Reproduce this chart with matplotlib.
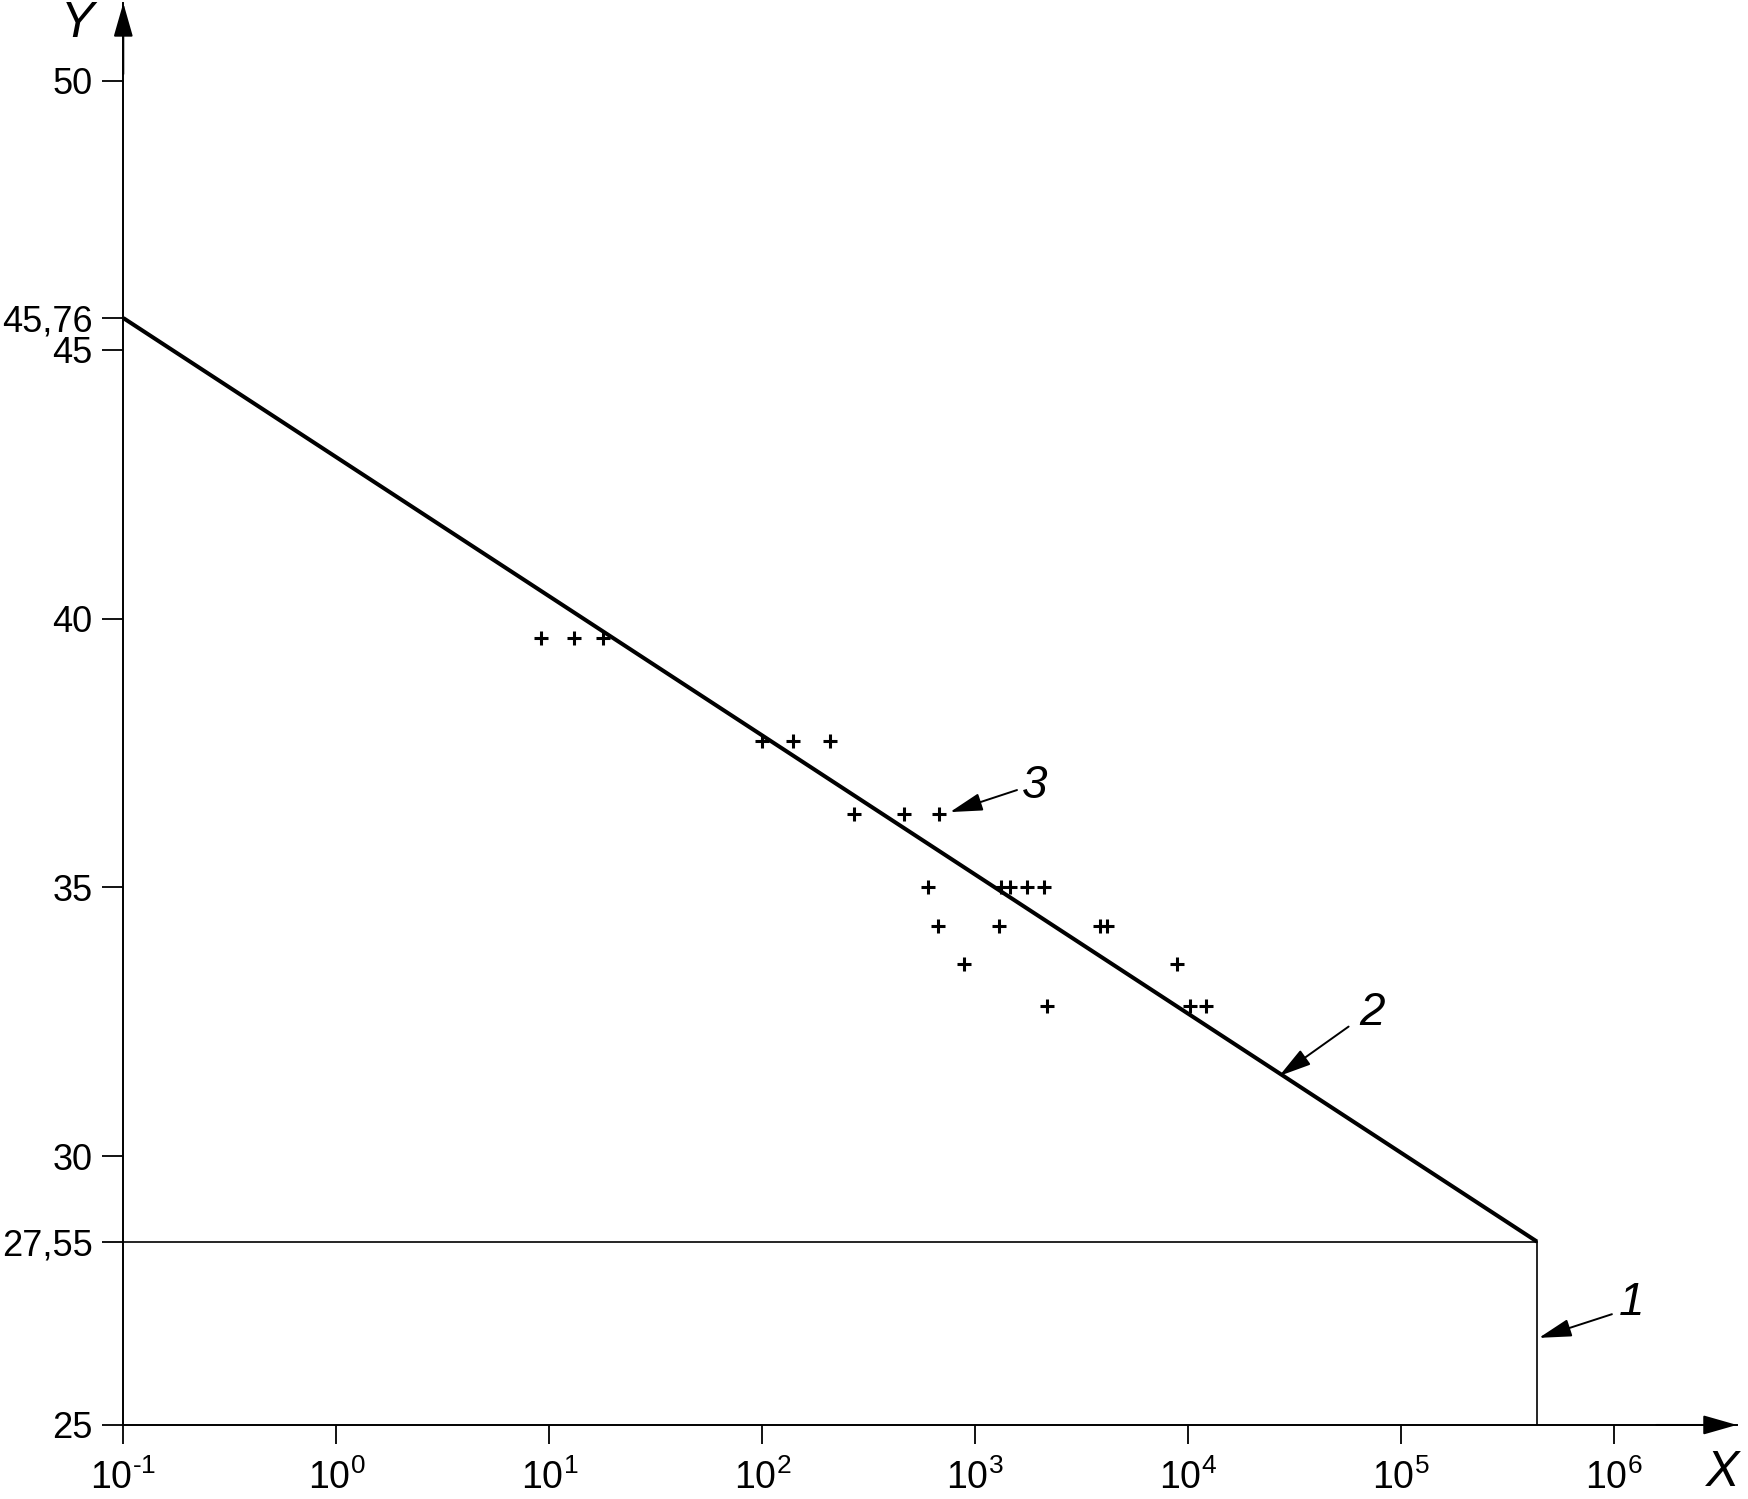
import matplotlib
matplotlib.use("Agg")
import numpy as np
import matplotlib.pyplot as plt

plt.rcParams['font.family'] = ['Liberation Sans', 'DejaVu Sans']
plt.rcParams['mathtext.fontset'] = 'custom'
plt.rcParams['mathtext.rm'] = 'Liberation Sans'
plt.rcParams['mathtext.it'] = 'Liberation Sans:italic'

# measured points (x on log scale)
pts_x = [9.1, 13.1, 17.8,
         100, 140, 208,
         270, 464, 678,
         597, 1316, 1455, 1743, 2109,
         670, 1288, 3850, 4140,
         888, 8830,
         2163, 10190, 12110]
pts_y = [39.64, 39.64, 39.64,
         37.72, 37.72, 37.72,
         36.37, 36.37, 36.37,
         35.0, 35.0, 35.0, 35.0, 35.0,
         34.28, 34.28, 34.28, 34.28,
         33.58, 33.58,
         32.79, 32.79, 32.79]

# fitted line (2) and boundary (1)
line_x = [0.1, 4.34e5]
line_y = [45.59, 28.41]
x_limit = 4.34e5
y_floor = 28.41

y_ticks = [25, 30, 35, 40, 45, 50, 45.59, 28.41]
y_tick_labels = ['25', '30', '35', '40', '45', '50', '45,76', '27,55']
x_ticks = [1e-1, 1e0, 1e1, 1e2, 1e3, 1e4, 1e5, 1e6]
x_tick_labels = ['$10^{\u2010 1}$', '$10^{0}$', '$10^{1}$', '$10^{2}$',
                 '$10^{3}$', '$10^{4}$', '$10^{5}$', '$10^{6}$']

fig = plt.figure(figsize=(17.49, 14.99), dpi=100)
ax = fig.add_axes([0.0705, 0.0494, 0.9226, 0.9486])
ax.set_xscale('log')
ax.set_xlim(0.1, 10 ** 6.576)
ax.set_ylim(25, 51.45)

for s in ['top', 'right']:
    ax.spines[s].set_visible(False)
for s in ['left', 'bottom']:
    ax.spines[s].set_linewidth(1.4)

ax.set_xticks(x_ticks)
ax.set_xticklabels(x_tick_labels)
ax.xaxis.set_minor_locator(matplotlib.ticker.NullLocator())
ax.set_yticks(y_ticks)
ax.set_yticklabels(y_tick_labels)
ax.tick_params(axis='both', direction='out', width=1.3)
ax.tick_params(axis='x', length=14, pad=11, labelsize=27)
ax.tick_params(axis='y', length=15, pad=7, labelsize=26)

# lines
ax.plot(line_x, line_y, color='k', lw=2.9, solid_capstyle='butt')
ax.plot([0.1, x_limit], [y_floor, y_floor], color='k', lw=1.2)
ax.plot([x_limit, x_limit], [25, y_floor], color='k', lw=1.2)

# points
ax.plot(pts_x, pts_y, linestyle='none', marker='+', color='k',
        markersize=10, markeredgewidth=2.2)

# axis arrows
arrow_kw = dict(arrowstyle='-|>,head_length=21,head_width=6', color='k',
                lw=1.4, mutation_scale=1, shrinkA=0, shrinkB=0)
ax.annotate('', xy=(0, 1), xytext=(0, 0.95), xycoords='axes fraction',
            textcoords='axes fraction', arrowprops=arrow_kw, annotation_clip=False)
ax.annotate('', xy=(1, 0), xytext=(0.95, 0), xycoords='axes fraction',
            textcoords='axes fraction', arrowprops=arrow_kw, annotation_clip=False)

fig.text(77 / 1749, 1 - 24 / 1499, 'Y', fontsize=36, style='italic',
         ha='center', va='center')
fig.text(1723 / 1749, 1 - 1473 / 1499, 'X', fontsize=36, style='italic',
         ha='center', va='center')

# callouts
callout_kw = dict(arrowstyle='-|>,head_length=20,head_width=5.5', color='k',
                  lw=1.4, mutation_scale=1, shrinkA=0, shrinkB=0)
ax.annotate('', xy=(761, 36.40), xytext=(1570, 36.81), arrowprops=callout_kw)
ax.text(1906, 36.89, '3', fontsize=33, style='italic', ha='center', va='center')
ax.annotate('', xy=(26700, 31.49), xytext=(56600, 32.41), arrowprops=callout_kw)
ax.text(72800, 32.66, '2', fontsize=33, style='italic', ha='center', va='center')
ax.annotate('', xy=(4.43e5, 26.62), xytext=(9.75e5, 27.06), arrowprops=callout_kw)
ax.text(1.21e6, 27.27, '1', fontsize=33, style='italic', ha='center', va='center')

fig.savefig('out.png', dpi=100)
